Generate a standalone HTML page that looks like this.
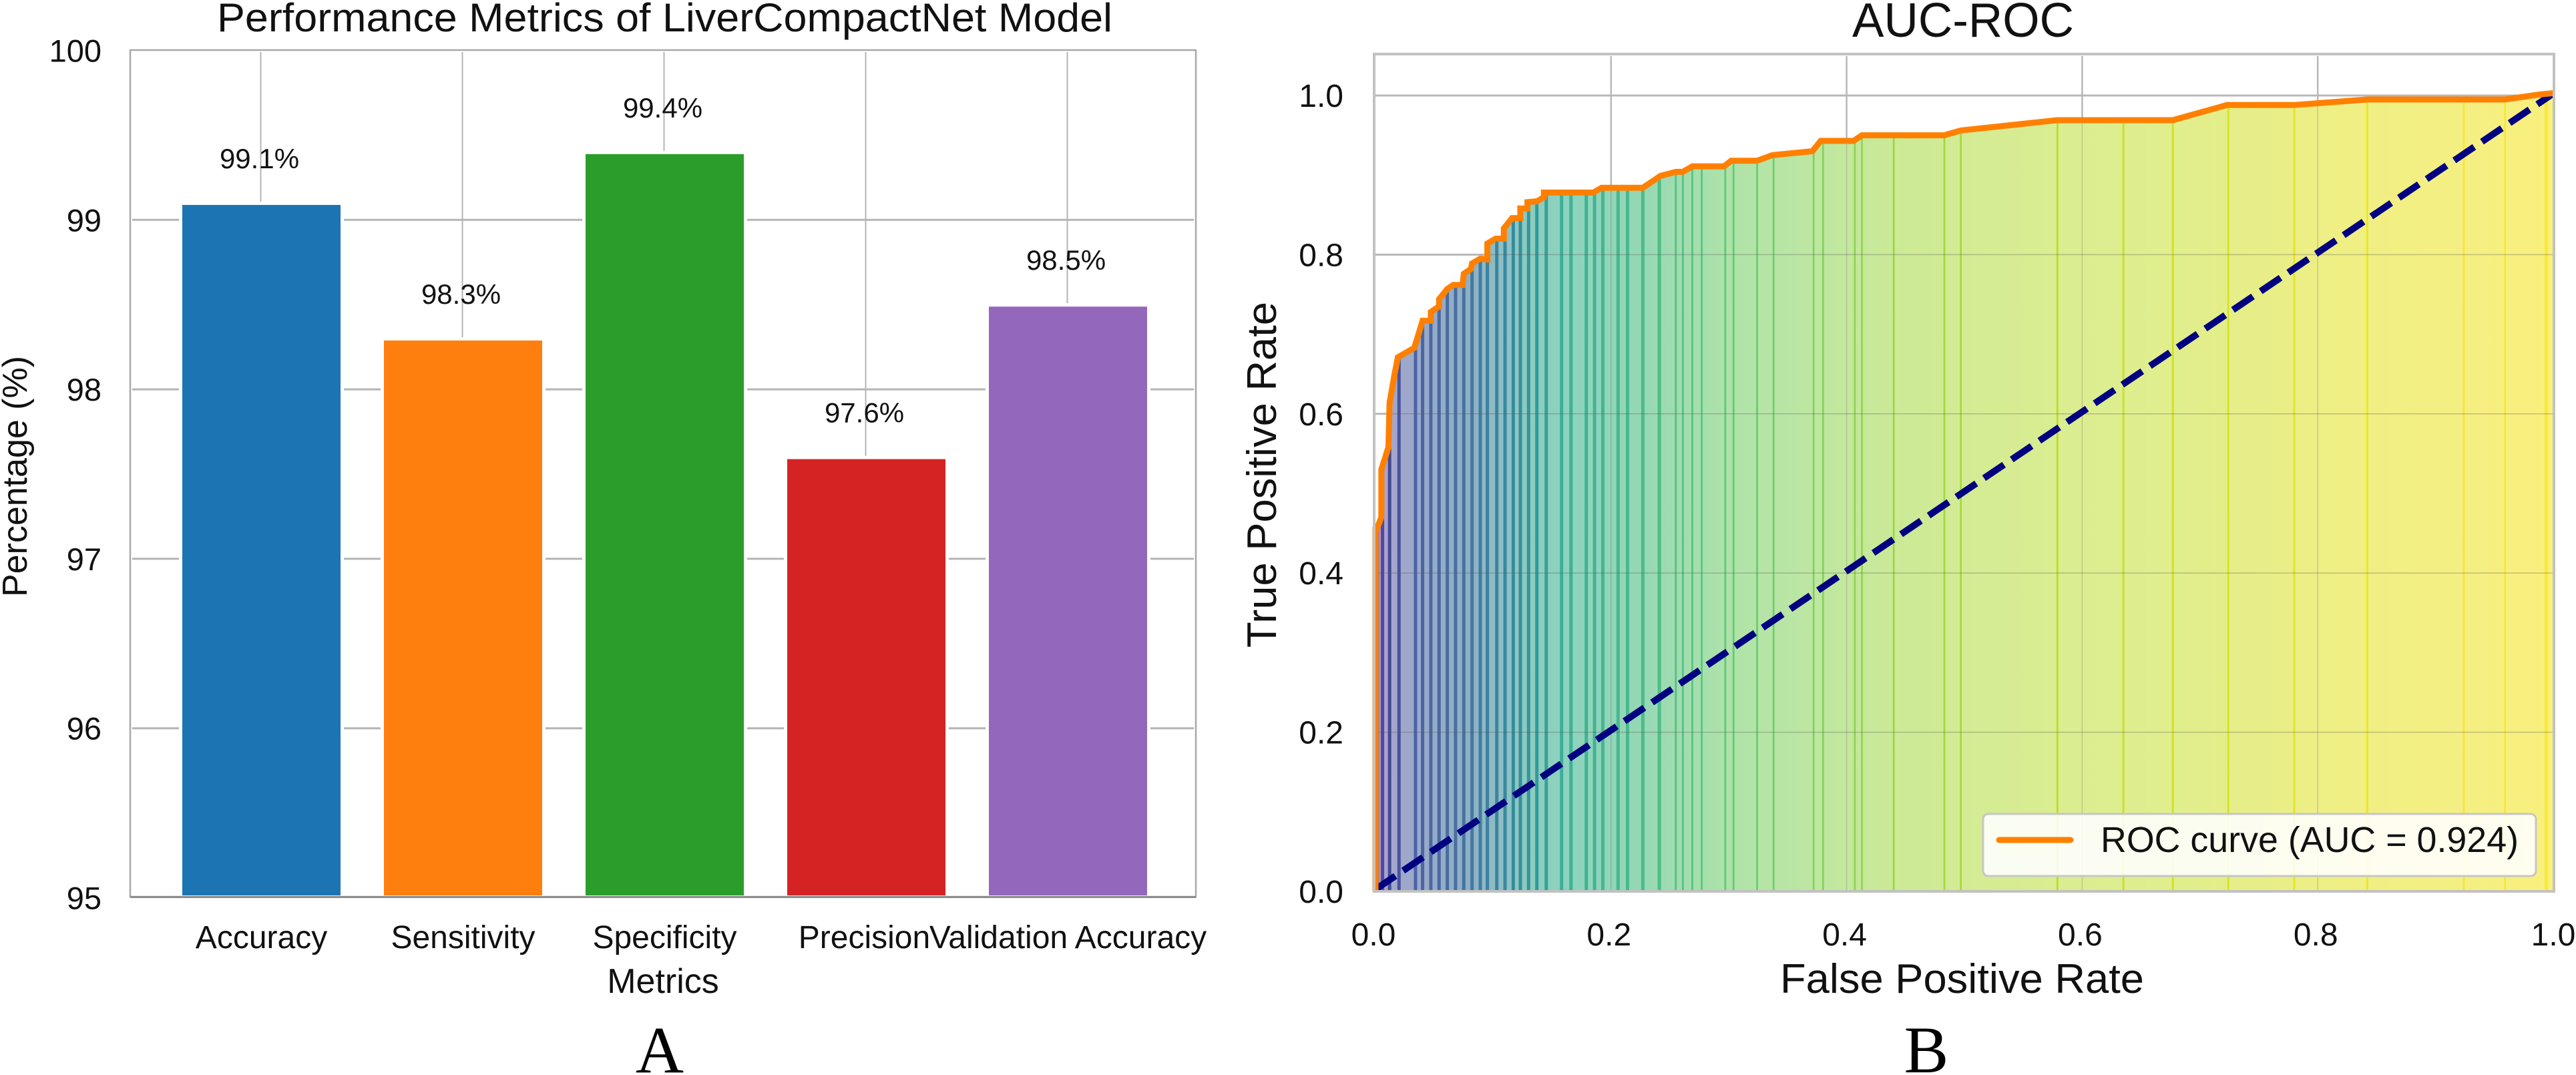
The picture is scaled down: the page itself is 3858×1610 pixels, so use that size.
<!DOCTYPE html>
<html lang="en">
<head>
<meta charset="utf-8">
<title>LiverCompactNet performance metrics and AUC-ROC</title>
<style>
  html, body { margin: 0; padding: 0; background: #fff; }
  svg { display: block; }
  text { font-family: "Liberation Sans", Arial, sans-serif; fill: #111; }
  .panel { font-family: "Liberation Serif", "Times New Roman", serif; fill: #000; }
</style>
</head>
<body>
<svg id="figure" xmlns="http://www.w3.org/2000/svg" width="3858" height="1610" viewBox="0 0 3858 1610">
  <rect width="3858" height="1610" fill="#fff"/>

  <g id="chart-a">
    <g id="a-grid"></g>
    <g id="a-bars"></g>
    <g id="a-frame"></g>
    <g id="a-labels"></g>
    <g id="a-yticks"></g>
    <g id="a-xticks"></g>
    <text x="325" y="47" font-size="60" textLength="1341" lengthAdjust="spacingAndGlyphs">Performance Metrics of LiverCompactNet Model</text>
    <text x="993" y="1487" font-size="52" text-anchor="middle">Metrics</text>
    <text transform="translate(40,894) rotate(-90)" font-size="52" textLength="361" lengthAdjust="spacingAndGlyphs">Percentage (%)</text>
    <text class="panel" x="988" y="1606" font-size="100" text-anchor="middle">A</text>
  </g>

  <g id="chart-b">
    <defs>
      <linearGradient id="roc-gradient" gradientUnits="userSpaceOnUse" x1="2060" y1="0" x2="3824" y2="0"></linearGradient>
      <clipPath id="roc-clip"><polygon id="roc-clip-shape" points="0,0"/></clipPath>
    </defs>
    <g id="b-grid"></g>
    <polygon id="roc-fill" fill="url(#roc-gradient)"/>
    <g id="b-stripes"></g>
    <g id="b-grid-over" clip-path="url(#roc-clip)"></g>
    <line id="chance-line" stroke="#000080" stroke-width="10" stroke-dasharray="36 14"/>
    <polyline id="roc-line" fill="none" stroke="#FF8000" stroke-width="9" stroke-linejoin="miter"/>
    <g id="b-frame"></g>
    <g id="b-xticks"></g>
    <g id="b-yticks"></g>
    <g id="roc-legend">
      <rect x="2970" y="1219" width="828" height="93" rx="8" fill="#fff" fill-opacity="0.88" stroke="#c6c6c6" stroke-width="3"/>
      <line x1="2994" y1="1258" x2="3101" y2="1258" stroke="#FF8000" stroke-width="9" stroke-linecap="round"/>
      <text x="3146" y="1276" font-size="54" textLength="626" lengthAdjust="spacingAndGlyphs">ROC curve (AUC = 0.924)</text>
    </g>
    <text x="2774" y="55" font-size="72" textLength="332" lengthAdjust="spacingAndGlyphs">AUC-ROC</text>
    <text x="2666" y="1487" font-size="62" textLength="545" lengthAdjust="spacingAndGlyphs">False Positive Rate</text>
    <text transform="translate(1911,970) rotate(-90)" font-size="62" textLength="518" lengthAdjust="spacingAndGlyphs">True Positive Rate</text>
    <text class="panel" x="2885" y="1606" font-size="100" text-anchor="middle">B</text>
  </g>
</svg>

<script>
// ---- bar chart data ----
const metricNames = ["Accuracy", "Sensitivity", "Specificity", "Precision", "Validation Accuracy"];
const metricValues = [99.1, 98.3, 99.4, 97.6, 98.5];
const metricLabels = ["99.1%", "98.3%", "99.4%", "97.6%", "98.5%"];
const percentTicks = [95, 96, 97, 98, 99, 100];
const barColors = ["#1C74B3", "#FF7F0E", "#2A9D2B", "#D52324", "#9367BC"];

// ---- ROC chart data ----
const fpr = [0, 0, 0.001, 0.005, 0.005, 0.011, 0.012, 0.016, 0.019, 0.033, 0.040, 0.047, 0.047, 0.054, 0.054, 0.061, 0.066, 0.074, 0.075, 0.081, 0.082, 0.089, 0.095, 0.095, 0.102, 0.109, 0.109, 0.116, 0.123, 0.123, 0.129, 0.129, 0.137, 0.143, 0.143, 0.185, 0.192, 0.227, 0.242, 0.255, 0.261, 0.269, 0.296, 0.302, 0.324, 0.337, 0.371, 0.378, 0.406, 0.413, 0.483, 0.497, 0.579, 0.677, 0.723, 0.780, 0.842, 0.959, 0.987, 1.0];
const tpr = [0, 0.455, 0.455, 0.470, 0.530, 0.558, 0.614, 0.648, 0.671, 0.683, 0.717, 0.717, 0.728, 0.735, 0.744, 0.757, 0.762, 0.762, 0.776, 0.782, 0.789, 0.795, 0.794, 0.814, 0.820, 0.820, 0.833, 0.846, 0.846, 0.858, 0.858, 0.866, 0.867, 0.872, 0.878, 0.878, 0.884, 0.884, 0.899, 0.904, 0.904, 0.911, 0.911, 0.918, 0.918, 0.925, 0.930, 0.943, 0.943, 0.950, 0.950, 0.956, 0.969, 0.969, 0.988, 0.988, 0.995, 0.995, 1.001, 1.003];
const thresholdFpr = [0.002, 0.006, 0.012, 0.020, 0.034, 0.040, 0.047, 0.054, 0.061, 0.068, 0.075, 0.082, 0.089, 0.095, 0.103, 0.110, 0.117, 0.123, 0.130, 0.137, 0.145, 0.158, 0.166, 0.179, 0.186, 0.193, 0.206, 0.214, 0.227, 0.241, 0.255, 0.261, 0.269, 0.277, 0.297, 0.304, 0.324, 0.338, 0.372, 0.380, 0.407, 0.413, 0.440, 0.483, 0.497, 0.579, 0.635, 0.677, 0.724, 0.780, 0.842, 0.924, 0.959, 0.994];
const rateTicks = [0, 0.2, 0.4, 0.6, 0.8, 1.0];
const rateTickLabels = ["0.0", "0.2", "0.4", "0.6", "0.8", "1.0"];
const chanceX = [0, 1];
const chanceY = [0, 1];

// ---- colour ramps (style only) ----
const fillRamp = [[0, "#8E7DB6"], [0.006, "#A9A3CE"], [0.023, "#9FA8CB"], [0.05, "#96ABC8"], [0.08, "#90AFC6"], [0.107, "#8FBFC4"], [0.136, "#8DCDBD"], [0.16, "#8DD2BD"], [0.22, "#94D7B5"], [0.306, "#B0E3A8"], [0.36, "#BBE6A3"], [0.45, "#CDEA96"], [0.53, "#D6EC92"], [0.646, "#DEEE8F"], [0.73, "#E5EE88"], [0.816, "#EFEF84"], [0.93, "#F5EF82"], [1, "#F9F07C"]];
const stripeRamp = [[0, "#A04A30"], [0.004, "#5A3E9E"], [0.012, "#3D4590"], [0.034, "#4A5FA5"], [0.06, "#43689E"], [0.09, "#3B7BA0"], [0.12, "#2D8C9C"], [0.14, "#2A9A9C"], [0.16, "#38AE97"], [0.2, "#3FB58F"], [0.3, "#5CC878"], [0.4, "#8BD44F"], [0.5, "#A8D830"], [0.6, "#BFDC20"], [0.8, "#E5E41C"], [1, "#FBE83A"]];

// ---- axis functions ----
const NS = "http://www.w3.org/2000/svg";
const aX = i => 391.5 + 302 * i;
const aY = v => 75.5 + (100 - v) * 253.8;
const barWidth = 237;
const bX = v => 2060 + 1764 * v;
const bY = v => 1335 - 1192 * v;

function make(tag, attrs, parent, text) {
  const el = document.createElementNS(NS, tag);
  for (const k in attrs) el.setAttribute(k, attrs[k]);
  if (text !== undefined) el.textContent = text;
  parent.appendChild(el);
  return el;
}
function hexToRgb(h) { return [1, 3, 5].map(i => parseInt(h.substr(i, 2), 16)); }
function rampColor(ramp, t) {
  for (let i = 1; i < ramp.length; i++) {
    if (t <= ramp[i][0]) {
      const a = ramp[i - 1], b = ramp[i];
      const f = (t - a[0]) / ((b[0] - a[0]) || 1);
      const ca = hexToRgb(a[1]), cb = hexToRgb(b[1]);
      return "rgb(" + ca.map((c, j) => Math.round(c + (cb[j] - c) * f)).join(",") + ")";
    }
  }
  return ramp[ramp.length - 1][1];
}
function tprAt(x) {
  for (let i = 1; i < fpr.length; i++) {
    if (x <= fpr[i] && fpr[i] > fpr[i - 1]) {
      return tpr[i - 1] + (tpr[i] - tpr[i - 1]) * (x - fpr[i - 1]) / (fpr[i] - fpr[i - 1]);
    }
  }
  return tpr[tpr.length - 1];
}

// ---- chart A ----
const aGrid = document.getElementById("a-grid");
const aYticks = document.getElementById("a-yticks");
percentTicks.forEach(v => {
  if (v !== 95 && v !== 100) {
    const g = make("line", { x1: 198, x2: 1788, y1: aY(v), y2: aY(v), stroke: "#b4b4b4", "stroke-width": 3 }, aGrid);
    
    
  }
  const t = make("text", { x: 152, y: aY(v) + 17, "font-size": 47, "text-anchor": "end" }, aYticks, String(v));
  
  
});
const aBars = document.getElementById("a-bars");
const aLabels = document.getElementById("a-labels");
const aXticks = document.getElementById("a-xticks");
metricNames.forEach((name, i) => {
  const g = make("line", { x1: aX(i) - 1, x2: aX(i) - 1, y1: 78, y2: 1340, stroke: "#b4b4b4", "stroke-width": 2 }, aGrid);
  
  
  const top = aY(metricValues[i]) + 3;
  const bar = make("rect", { x: aX(i) - barWidth / 2, y: top, width: barWidth, height: 1341 - top, fill: barColors[i], stroke: "#fff", "stroke-width": 0 }, aBars);
  
  
  const halo = make("rect", { x: aX(i) - barWidth / 2 - 5, y: top - 5, width: barWidth + 10, height: 1341 - top + 3, fill: "#fff" }, aGrid);
  
  
  const lab = make("text", { x: aX(i) - 3, y: top - 55, "font-size": 42, "text-anchor": "middle" }, aLabels, metricLabels[i]);
  
  
  const tick = make("text", { x: aX(i) - (i === 3 ? 3 : 0), y: 1420, "font-size": 48, "text-anchor": "middle" }, aXticks, name);
  
  
});
const aFrame = document.getElementById("a-frame");
const frameA = make("rect", { x: 195, y: 75, width: 1596, height: 1268, fill: "none", stroke: "#a8a8a8", "stroke-width": 2.5 }, aFrame);


const baseA = make("line", { x1: 195, x2: 1791, y1: 1343.5, y2: 1343.5, stroke: "#8c8c8c", "stroke-width": 3 }, aFrame);



// ---- chart B ----
const bGrid = document.getElementById("b-grid");
const bOver = document.getElementById("b-grid-over");
const bXticks = document.getElementById("b-xticks");
const bYticks = document.getElementById("b-yticks");
rateTicks.forEach((v, i) => {
  if (v > 0 && v < 1) {
    const gx = make("line", { x1: bX(v), x2: bX(v), y1: 84, y2: 1335, stroke: "#b8b8b8", "stroke-width": 2.5 }, bGrid);
    
    
    const ox = make("line", { x1: bX(v), x2: bX(v), y1: 84, y2: 1335, stroke: "#666", "stroke-opacity": 0.28, "stroke-width": 1.5 }, bOver);
    
    
  }
  if (v > 0) {
    const gy = make("line", { x1: 2060, x2: 3824, y1: bY(v), y2: bY(v), stroke: "#b8b8b8", "stroke-width": 3 }, bGrid);
    
    
    const oy = make("line", { x1: 2060, x2: 3824, y1: bY(v), y2: bY(v), stroke: "#555", "stroke-opacity": 0.32, "stroke-width": 1.5 }, bOver);
    
    
  }
  const tx = make("text", { x: bX(v) - 3 + (v === 1 ? 3 : 0), y: 1416, "font-size": 48, "text-anchor": "middle" }, bXticks, rateTickLabels[i]);
  
  
  const ty = make("text", { x: 2012, y: bY(v) + 17, "font-size": 48, "text-anchor": "end" }, bYticks, rateTickLabels[i]);
  
  
});

const gradient = document.getElementById("roc-gradient");
fillRamp.forEach(s => {
  make("stop", { offset: s[0], "stop-color": s[1] }, gradient);
});

const curvePoints = fpr.map((x, i) => bX(x) + "," + bY(tpr[i])).join(" ");
const areaPoints = curvePoints + " " + bX(1) + "," + bY(0) + " " + bX(0) + "," + bY(0);
document.getElementById("roc-fill").setAttribute("points", areaPoints);
document.getElementById("roc-clip-shape").setAttribute("points", areaPoints);
document.getElementById("roc-line").setAttribute("points", curvePoints);

const bStripes = document.getElementById("b-stripes");
thresholdFpr.forEach(x => {
  const w = x < 0.004 ? 2.5 : x < 0.25 ? 5 : x > 0.99 ? 5 : 2.8;
  const top = bY(tprAt(x));
  const s = make("rect", { x: bX(x) - w / 2, y: top, width: w, height: bY(0) - top, fill: rampColor(stripeRamp, x), "fill-opacity": 0.95 }, bStripes);
  
  
});

const chance = document.getElementById("chance-line");
chance.setAttribute("x1", bX(chanceX[0]));
chance.setAttribute("y1", bY(chanceY[0]) - 3);
chance.setAttribute("x2", bX(chanceX[1]));
chance.setAttribute("y2", bY(chanceY[1]) - 3);

const bFrame = document.getElementById("b-frame");
const frameB = make("rect", { x: 2058, y: 81, width: 1767, height: 1254, fill: "none", stroke: "#c2c2c2", "stroke-width": 4 }, bFrame);


</script>
</body>
</html>
